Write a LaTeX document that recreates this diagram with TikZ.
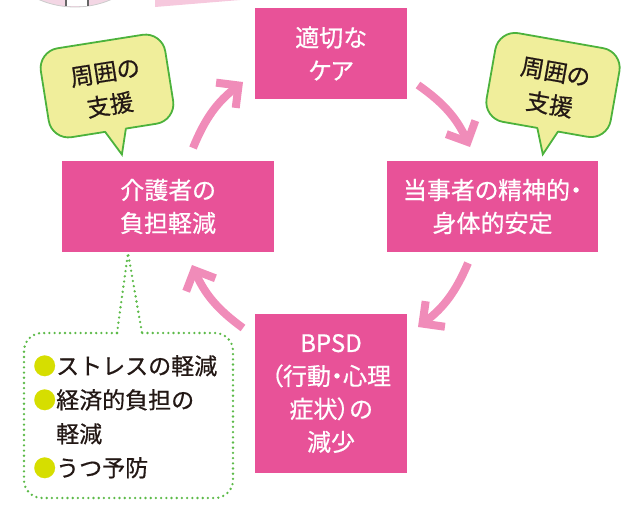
\documentclass[tikz,border=0pt]{standalone}
\usepackage{fontspec}
\setmainfont{Noto Sans CJK JP}[RawFeature={+palt}, FakeBold=0.6]
\newfontfamily\jpfix{Noto Sans CJK JP}[FakeBold=0.6]
\usetikzlibrary{arrows.meta}
\definecolor{boxc}{RGB}{232,82,152}
\definecolor{arrowc}{RGB}{240,140,185}
\definecolor{bubfill}{RGB}{240,238,155}
\definecolor{bubline}{RGB}{76,178,60}
\definecolor{dotc}{RGB}{92,186,72}
\definecolor{txtc}{RGB}{35,24,21}
\definecolor{bulletc}{RGB}{214,222,0}
\definecolor{wedgec}{RGB}{246,200,221}
\definecolor{discc}{RGB}{243,214,228}
\tikzset{
  pinkbox/.style={fill=boxc, text=white, inner sep=0pt, align=center,
    font=\fontsize{24}{33}\selectfont},
  cyc/.style={draw=arrowc, line width=8pt,
    -{Straight Barb[length=16pt,width=32pt,line cap=butt,line join=miter]}},
  bubshape/.style={fill=bubfill, draw=bubline, line width=1.8pt},
  bubtext/.style={text=txtc, align=center, inner sep=0pt,
    font=\fontsize{23.5}{33}\selectfont},
  dotline/.style={draw=dotc, line width=2.6pt, line cap=round,
    dash pattern=on 0pt off 5.2pt},
  listtext/.style={text=txtc, align=left, inner sep=0pt,
    font=\jpfix\fontsize{23}{34}\selectfont}
}
\begin{document}
\begin{tikzpicture}[x=1pt,y=-1pt]
\path[use as bounding box] (0,0) rectangle (621,504);
% cropped remnants at the top edge
\fill[wedgec] (155,0) -- (155,7) -- (240,0) -- cycle;
\begin{scope}
\clip (0,0) rectangle (621,20);
\fill[discc] (75,-84) circle (91);
\draw[black!20, line width=0.8pt] (75,-84) circle (91);
\fill[white] (67,0) rectangle (87,6);
\draw[black!60, line width=1.6pt] (66,0) -- (66,6) (88,0) -- (88,6);
\end{scope}

% boxes
\node[pinkbox, minimum width=152pt, minimum height=91pt] (care) at (331,53.5) {適切な\\ケア};
\node[pinkbox, minimum width=211pt, minimum height=91pt] (self) at (492.5,206.5) {当事者の精神的・\\身体的安定};
\node[pinkbox, minimum width=212pt, minimum height=91pt] (carer) at (168,206.5) {介護者の\\負担軽減};
\node[pinkbox, minimum width=152pt, minimum height=159pt] (bpsd) at (331,393.5) {BPSD\\（行動・心理\\症状）の\\減少};

% cycle arrows
\coordinate (a1s) at (193,148); \coordinate (a1e) at (243,82);
\coordinate (a2s) at (418,85);  \coordinate (a2e) at (470,147);
\coordinate (a3s) at (468,263); \coordinate (a3e) at (418,327);
\coordinate (a4s) at (243,328); \coordinate (a4e) at (192,265);
\draw[cyc] (a1s) to[bend left=15] (a1e);
\draw[cyc] (a2s) to[bend left=15] (a2e);
\draw[cyc] (a3s) to[bend left=15] (a3e);
\draw[cyc] (a4s) to[bend left=15] (a4e);

% left speech bubble
\begin{scope}[shift={(107,86)}, rotate=9]
\draw[bubshape, rounded corners=20] (-63,-45) rectangle (63,45);
\fill[bubfill] (-9,43) -- (4,70) -- (12,43) -- cycle;
\draw[bubline, line width=1.8pt, line join=miter] (-9,45) -- (4,70) -- (12,45);
\node[bubtext, rotate=9] (bubL) at (0,3) {周囲の\\支援};
\end{scope}

% right speech bubble
\begin{scope}[shift={(553,85)}, rotate=-10]
\draw[bubshape, rounded corners=20] (-63,-45) rectangle (63,45);
\fill[bubfill] (-8,43) -- (2,70) -- (13,43) -- cycle;
\draw[bubline, line width=1.8pt, line join=miter] (-8,45) -- (2,70) -- (13,45);
\node[bubtext, rotate=-10] (bubR) at (0,3.5) {周囲の\\支援};
\end{scope}

% dotted callout
\coordinate (tip) at (128,253);
\coordinate (tl) at (117,333);
\coordinate (tr) at (142,333);
\draw[dotline, rounded corners=18] (tl) -- (24,333) -- (24,498) -- (233,498) -- (233,333) -- (tr);
\draw[dotline] (tl) -- (tip) -- (tr);
\node[listtext, anchor=north west] (list) at (33,355)
  {\textcolor{bulletc}{●}ストレスの軽減\\
   \textcolor{bulletc}{●}経済的負担の\\
   \hspace{1em}軽減\\
   \textcolor{bulletc}{●}うつ予防};
\end{tikzpicture}
\end{document}
